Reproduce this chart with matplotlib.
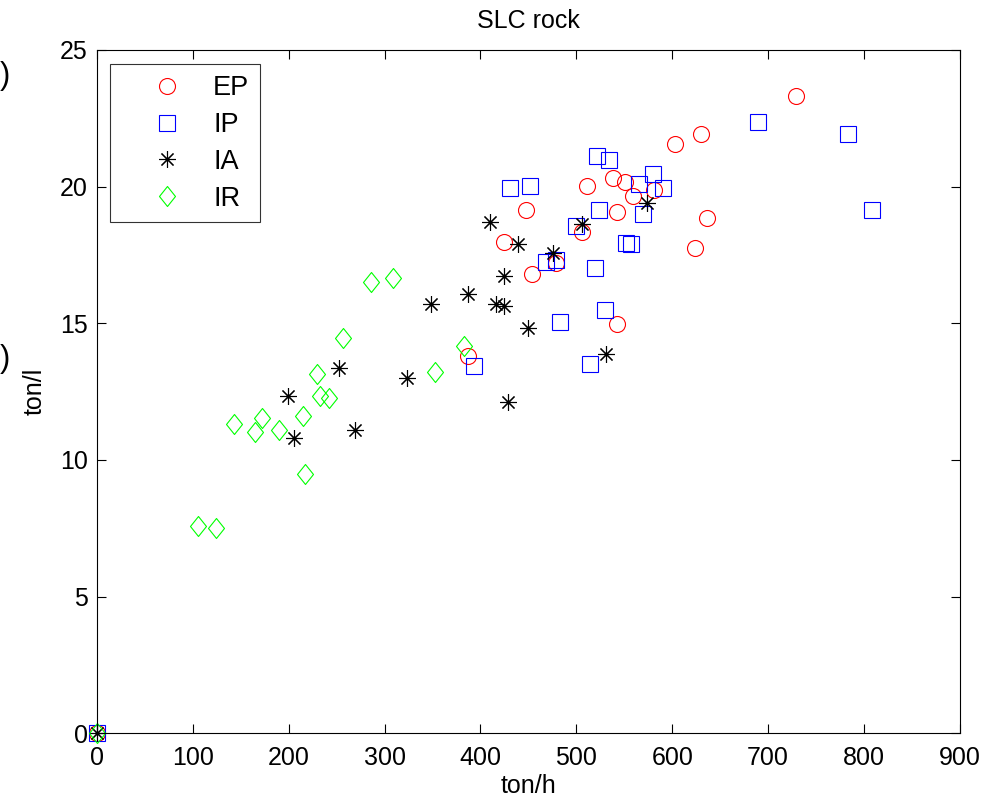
import matplotlib
matplotlib.use('Agg')
from matplotlib import pyplot as plt
from matplotlib.path import Path
import numpy as np

plt.rcParams['font.family'] = ['Liberation Sans', 'DejaVu Sans']

# EP
ep_x = [0, 729.2, 629.9, 602.8, 635.8, 623.6, 581.0, 511.5, 538.2, 550.7, 558.9,
        447.6, 542.7, 505.5, 424.7, 478.5, 453.5, 542.7, 387.1]
ep_y = [0, 23.32, 21.92, 21.55, 18.84, 17.75, 19.88, 20.03, 20.32, 20.16, 19.66,
        19.15, 19.07, 18.33, 17.98, 17.22, 16.79, 14.98, 13.80]
# IP
ip_x = [0, 689.9, 783.3, 808.0, 579.5, 590.0, 521.9, 534.4, 430.9, 451.4, 565.6,
        524.0, 569.4, 499.3, 551.7, 557.3, 468.0, 478.5, 519.8, 482.6, 530.2,
        393.4, 513.9]
ip_y = [0, 22.36, 21.92, 19.14, 20.45, 19.94, 21.11, 20.98, 19.94, 20.03, 20.10,
        19.14, 18.99, 18.55, 17.95, 17.90, 17.23, 17.32, 17.03, 15.05, 15.48,
        13.44, 13.51]
# IA
ia_x = [0, 573.2, 409.7, 505.5, 439.2, 476.0, 424.3, 387.1, 347.9, 416.0, 424.3,
        449.6, 530.5, 323.3, 428.4, 252.4, 198.9, 269.1, 205.2]
ia_y = [0, 19.41, 18.70, 18.63, 17.90, 17.56, 16.73, 16.06, 15.70, 15.70, 15.63,
        14.82, 13.88, 13.00, 12.11, 13.35, 12.34, 11.09, 10.79]
# IR
ir_x = [0, 285.4, 308.3, 257.0, 383.0, 352.1, 229.9, 233.1, 241.9, 214.9, 142.7,
        171.9, 165.3, 190.3, 216.9, 105.5, 124.0]
ir_y = [0, 16.50, 16.65, 14.45, 14.17, 13.22, 13.13, 12.35, 12.27, 11.61, 11.31,
        11.54, 11.01, 11.10, 9.49, 7.59, 7.51]

x_ticks = [0, 100, 200, 300, 400, 500, 600, 700, 800, 900]
y_ticks = [0, 5, 10, 15, 20, 25]

# matlab style diamond, a bit taller than wide
diamond = Path([(0, 1), (0.8, 0), (0, -1), (-0.8, 0), (0, 1)],
               [Path.MOVETO, Path.LINETO, Path.LINETO, Path.LINETO, Path.CLOSEPOLY])

fig = plt.figure(figsize=(10.03, 8.01), dpi=100)
ax = fig.add_axes([0.0967, 0.0845, 0.8603, 0.8531])

kw = dict(linestyle='none', markerfacecolor='none', markeredgewidth=0.8, clip_on=False)
ax.plot(ep_x, ep_y, marker='o', markersize=11.5, markeredgecolor=(1, 0, 0), label='EP', **kw)
ax.plot(ip_x, ip_y, marker='s', markersize=11.5, markeredgecolor=(0, 0, 1), label='IP', **kw)
ax.plot(ia_x, ia_y, marker=(8, 2, 0), markersize=12, markeredgecolor='k', label='IA', **kw)
ax.plot(ir_x, ir_y, marker=diamond, markersize=14.4, markeredgecolor=(0, 1, 0), label='IR', **kw)

ax.set_xlim(0, 900)
ax.set_ylim(0, 25)
ax.set_xticks(x_ticks)
ax.set_yticks(y_ticks)
ax.tick_params(direction='in', length=6.5, width=0.8, top=True, right=True,
               labelsize=18)
ax.tick_params(axis='x', pad=9)
ax.tick_params(axis='y', pad=6.5)
for s in ax.spines.values():
    s.set_linewidth(0.8)

ax.set_title('SLC rock', fontsize=18, pad=15.5)
ax.set_xlabel('ton/h', fontsize=18, labelpad=3)
ax.set_ylabel('ton/l', fontsize=18, labelpad=10)

leg = ax.legend(loc='upper left', bbox_to_anchor=(0.0153, 0.979), fontsize=19.5,
                frameon=True, fancybox=False, edgecolor='k', markerfirst=True,
                handletextpad=0.0, borderpad=0.4, labelspacing=0.4, handlelength=3.4,
                borderaxespad=0)
leg.get_frame().set_linewidth(0.8)

# cut-off labels from the neighbouring panel
fig.text(0.0, 0.905, ')', fontsize=22, ha='left', va='center')
fig.text(0.0, 0.552, ')', fontsize=22, ha='left', va='center')

fig.savefig('out.png', dpi=100)
